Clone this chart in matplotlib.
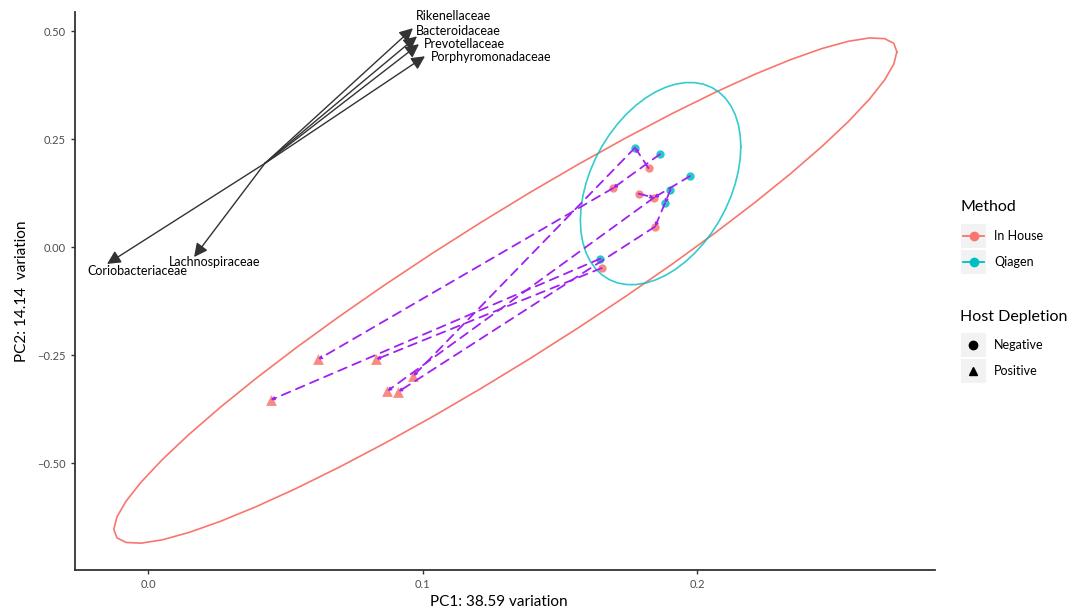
import matplotlib
matplotlib.use("Agg")
import matplotlib.pyplot as plt
from matplotlib.patches import FancyArrowPatch, Rectangle
from matplotlib.lines import Line2D
import numpy as np

plt.rcParams['font.family'] = ['Lato', 'DejaVu Sans']

# sample scores on PC1 / PC2
pc1_qiagen = [0.1774, 0.1865, 0.1974, 0.1903, 0.1883, 0.1648]
pc2_qiagen = [0.2303, 0.2153, 0.1644, 0.1331, 0.1019, -0.0266]
pc1_inhouse_neg = [0.1823, 0.1694, 0.1787, 0.1843, 0.1847, 0.1652]
pc2_inhouse_neg = [0.1829, 0.1366, 0.1238, 0.1146, 0.0475, -0.0486]
pc1_inhouse_pos = [0.0620, 0.0831, 0.0966, 0.0872, 0.0912, 0.0447]
pc2_inhouse_pos = [-0.2600, -0.2600, -0.2986, -0.3333, -0.3350, -0.3542]

# paired samples (from -> to)
links = [("N1", "Q1"), ("Q1", "P3"), ("Q2", "N2"), ("N2", "P1"),
         ("Q3", "N4"), ("N3", "N4"), ("N4", "P4"), ("Q4", "Q5"),
         ("Q5", "N5"), ("N5", "P5"), ("N6", "P2"), ("Q6", "P6")]

# loadings
taxa = ["Rikenellaceae", "Bacteroidaceae", "Prevotellaceae",
        "Porphyromonadaceae", "Coriobacteriaceae", "Lachnospiraceae"]
load_pc1 = [0.0965, 0.0980, 0.0987, 0.1009, -0.0149, 0.0168]
load_pc2 = [0.507, 0.488, 0.470, 0.442, -0.039, -0.023]
load_origin = (0.0426, 0.194)
# label offsets from arrow tips (repelled labels)
label_dx = [0.0146, 0.0149, 0.0164, 0.0241, 0.0109, 0.0076]
label_dy = [0.028, 0.012, 0.0, -0.002, -0.0166, -0.0117]

RED = "#F8766D"
TEAL = "#00BFC4"
PURPLE = "#A020F0"


def cov_trob(x, nu=5, maxit=25, tol=0.01):
    n, p = x.shape
    loc = x.mean(axis=0)
    w = np.ones(n)
    for _ in range(maxit):
        w0 = w
        X = x - loc
        _, d, vt = np.linalg.svd(np.sqrt(w / w.sum())[:, None] * X, full_matrices=False)
        wX = X @ vt.T @ np.diag(1 / d)
        Q = (wX ** 2).sum(axis=1)
        w = (nu + p) / (nu + Q)
        loc = (w[:, None] * x).sum(axis=0) / w.sum()
        if np.all(np.abs(w - w0) < tol):
            break
    cov = (np.sqrt(w)[:, None] * X).T @ (np.sqrt(w)[:, None] * X) / n
    return loc, cov


def t_ellipse(xs, ys, level=0.95, segments=51):
    x = np.column_stack([xs, ys])
    loc, cov = cov_trob(x)
    dfd = len(xs) - 1
    qf = dfd / 2 * ((1 - level) ** (-2 / dfd) - 1)
    radius = np.sqrt(2 * qf)
    ang = np.linspace(0, 2 * np.pi, segments)
    circle = np.column_stack([np.cos(ang), np.sin(ang)])
    chol = np.linalg.cholesky(cov).T
    pts = loc + radius * circle @ chol
    return pts[:, 0], pts[:, 1]


fig = plt.figure(figsize=(10.7, 6.1), dpi=100)
ax = fig.add_axes([0.070, 0.0656, 0.804, 0.9144])

pts = {}
for i in range(6):
    pts["Q%d" % (i + 1)] = (pc1_qiagen[i], pc2_qiagen[i])
    pts["N%d" % (i + 1)] = (pc1_inhouse_neg[i], pc2_inhouse_neg[i])
    pts["P%d" % (i + 1)] = (pc1_inhouse_pos[i], pc2_inhouse_pos[i])

# ellipses
ex, ey = t_ellipse(pc1_inhouse_neg + pc1_inhouse_pos, pc2_inhouse_neg + pc2_inhouse_pos)
ax.plot(ex, ey, color=RED, lw=1.2, zorder=1)
ex, ey = t_ellipse(pc1_qiagen, pc2_qiagen)
ax.plot(ex, ey, color=TEAL, lw=1.2, alpha=0.8, zorder=1)

# points
ax.scatter(pc1_inhouse_neg, pc2_inhouse_neg, s=36, color=RED, alpha=0.85, lw=0, zorder=2)
ax.scatter(pc1_qiagen, pc2_qiagen, s=36, color=TEAL, alpha=0.85, lw=0, zorder=2)
ax.scatter(pc1_inhouse_pos, pc2_inhouse_pos, s=60, marker="^", color=RED, alpha=0.85, lw=0, zorder=2)

# paired links
for a, b in links:
    arr = FancyArrowPatch(pts[a], pts[b], arrowstyle="->", mutation_scale=4,
                          color=PURPLE, lw=1.3, linestyle=(0, (5, 3.5)),
                          shrinkA=0, shrinkB=0, zorder=3)
    ax.add_patch(arr)

# loadings arrows
for i, name in enumerate(taxa):
    tip = (load_pc1[i], load_pc2[i])
    arr = FancyArrowPatch(load_origin, tip, arrowstyle="-|>,head_length=0.9,head_width=0.45",
                          mutation_scale=9, color="#333333", lw=1.0,
                          shrinkA=0, shrinkB=0, zorder=4)
    ax.add_patch(arr)
    ax.text(tip[0] + label_dx[i], tip[1] + label_dy[i], name, ha="center", va="center",
            fontsize=9, color="black", zorder=5)

ax.set_xlim(-0.0266, 0.2867)
ax.set_ylim(-0.7477, 0.544)
ax.set_xticks([0.0, 0.1, 0.2])
ax.set_xticklabels(["0.0", "0.1", "0.2"])
ax.set_yticks([0.5, 0.25, 0.0, -0.25, -0.5])
ax.set_yticklabels(["0.50", "0.25", "0.00", "\u22120.25", "\u22120.50"])
for s in ["top", "right"]:
    ax.spines[s].set_visible(False)
for s in ["left", "bottom"]:
    ax.spines[s].set_color("#333333")
    ax.spines[s].set_linewidth(1.3)
ax.tick_params(axis="both", length=3, width=1, color="#333333", labelsize=8, labelcolor="#4d4d4d")
ax.set_xlabel("PC1: 38.59 variation", fontsize=11, labelpad=3)
ax.xaxis.set_label_coords(0.493, -0.045)
ax.set_ylabel("PC2: 14.14  variation", fontsize=11, labelpad=6)


# legends (ggplot-like keys)
def px(x, y):
    return x / 1070, 1 - y / 610


def key_box(cy):
    x0, y0 = px(961, cy + 12)
    w, h = 25 / 1070, 24 / 610
    fig.add_artist(Rectangle((x0, y0), w, h, transform=fig.transFigure,
                             facecolor="#f2f2f2", edgecolor="none"))


fig.text(*px(960, 207), "Method", fontsize=11.5, va="center", ha="left")
for cy, lab, col in [(236, "In House", RED), (262, "Qiagen", TEAL)]:
    key_box(cy)
    x0, yc = px(963, cy)
    x1, _ = px(984, cy)
    fig.add_artist(Line2D([x0, x1], [yc, yc], transform=fig.transFigure, color=col, lw=1.3))
    fig.add_artist(Line2D([(x0 + x1) / 2], [yc], transform=fig.transFigure, color=col,
                          marker="o", markersize=6, lw=0))
    fig.text(*px(994, cy), lab, fontsize=9, va="center", ha="left")

fig.text(*px(960, 317), "Host Depletion", fontsize=11.5, va="center", ha="left")
for cy, lab, mk in [(345, "Negative", "o"), (371, "Positive", "^")]:
    key_box(cy)
    xc, yc = px(973, cy)
    fig.add_artist(Line2D([xc], [yc], transform=fig.transFigure, color="black",
                          marker=mk, markersize=6, lw=0))
    fig.text(*px(994, cy), lab, fontsize=9, va="center", ha="left")

fig.savefig("out.png", dpi=100)
